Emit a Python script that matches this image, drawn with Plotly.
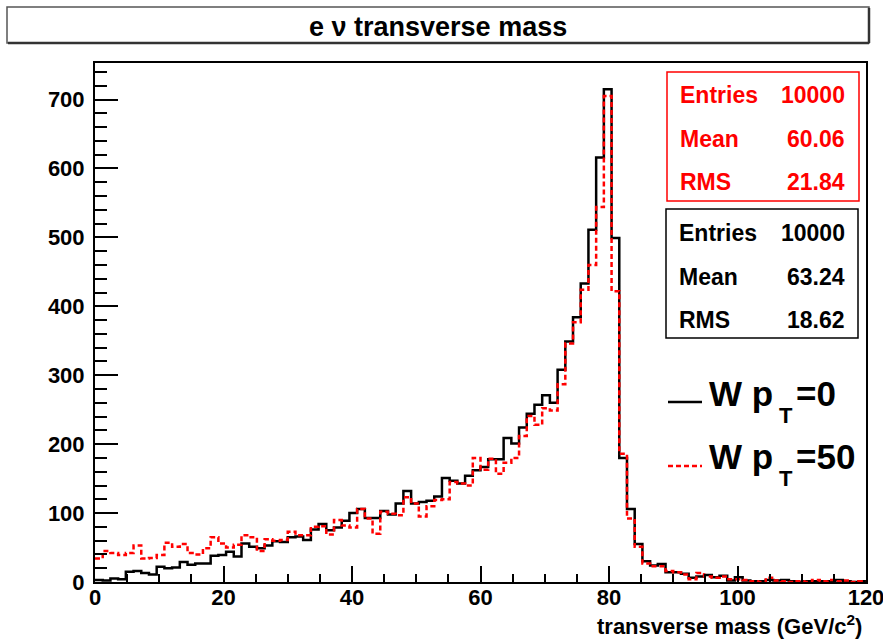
import plotly.graph_objects as go

# ---------------- data ----------------
XMIN, XMAX, NBINS = 0.0, 120.0, 100

black_counts = [3, 2, 5, 4, 15, 16, 13, 11, 22, 20,
                21, 29, 25, 27, 27, 38, 39, 44, 37, 56,
                51, 49, 53, 59, 58, 65, 66, 61, 76, 84,
                75, 79, 89, 100, 106, 93, 93, 103, 98, 114,
                132, 114, 116, 118, 124, 151, 147, 143, 154, 162,
                167, 178, 178, 209, 201, 224, 244, 257, 271, 260,
                308, 349, 384, 433, 511, 616, 715, 499, 180, 106,
                55, 30, 24, 26, 14, 14, 12, 6, 8, 10,
                7, 9, 2, 7, 2, 1, 1, 3, 2, 3,
                1, 0, 1, 1, 1, 1, 3, 1, 0, 1]

red_counts = [34, 45, 42, 39, 42, 53, 34, 35, 39, 57,
              51, 55, 42, 40, 49, 65, 56, 50, 54, 68,
              65, 45, 62, 60, 61, 73, 68, 68, 80, 81,
              69, 90, 82, 79, 106, 92, 70, 102, 99, 97,
              123, 114, 95, 110, 119, 120, 145, 143, 140, 180,
              163, 179, 157, 173, 180, 212, 241, 228, 252, 249,
              287, 346, 377, 424, 460, 544, 705, 422, 186, 92,
              51, 27, 23, 23, 16, 14, 11, 4, 13, 8,
              6, 8, 4, 4, 3, 1, 0, 6, 2, 1,
              0, 1, 0, 3, 1, 3, 1, 2, 0, 1]

# legend labels: (main text, subscript, tail)
series_labels = [("W p", "T", "=0"), ("W p", "T", "=50")]
stats_black = [("Entries", "10000"), ("Mean", "63.24"), ("RMS", "18.62")]
stats_red = [("Entries", "10000"), ("Mean", "60.06"), ("RMS", "21.84")]
title_text = "e \u03bd transverse mass"
xaxis_title = "transverse mass (GeV/c<sup>2</sup>)"
x_tick_values = [0, 20, 40, 60, 80, 100, 120]

# ---------------- layout helpers ----------------
W, H = 883, 639
L, R, T, B = 95, 17, 63, 57
PW, PH = W - L - R, H - T - B
FONT = "Liberation Sans"


def px(x):
    return (x - L) / PW


def py(y):
    return (H - B - y) / PH


bw = (XMAX - XMIN) / NBINS
edges = [XMIN + i * bw for i in range(NBINS + 1)]


def step(counts):
    return edges, list(counts) + [counts[-1]]


fig = go.Figure()
xb, yb = step(black_counts)
fig.add_trace(go.Scatter(x=xb, y=yb, mode="lines", line_shape="hv",
                         line=dict(color="black", width=2.5), showlegend=False,
                         hoverinfo="skip"))
xr, yr = step(red_counts)
fig.add_trace(go.Scatter(x=xr, y=yr, mode="lines", line_shape="hv",
                         line=dict(color="#ff0000", width=2.5, dash="5px,3px"),
                         showlegend=False, hoverinfo="skip"))

shapes = []
annotations = []


def txt(text, x, y, size, color="black", xanchor="left", yanchor="middle"):
    annotations.append(dict(text="<b>" + text + "</b>", xref="paper", yref="paper",
                            x=px(x), y=py(y), xanchor=xanchor, yanchor=yanchor,
                            showarrow=False,
                            font=dict(family=FONT, size=size, color=color)))


# title box
shapes.append(dict(type="rect", xref="paper", yref="paper",
                   x0=px(7), x1=px(869), y0=py(43), y1=py(7),
                   line=dict(color="#555555", width=1.5), fillcolor="white", layer="below"))
shapes.append(dict(type="line", xref="paper", yref="paper",
                   x0=px(869), x1=px(869), y0=py(43), y1=py(8),
                   line=dict(color="#333333", width=2.5)))
shapes.append(dict(type="line", xref="paper", yref="paper",
                   x0=px(8), x1=px(869), y0=py(43), y1=py(43),
                   line=dict(color="#333333", width=2.5)))
txt(title_text, 438, 27, 27, xanchor="center")


# stats boxes
def stats_box(rows, color, xl, xr_, yt, yb_, ys):
    shapes.append(dict(type="rect", xref="paper", yref="paper",
                       x0=px(xl), x1=px(xr_), y0=py(yb_), y1=py(yt),
                       line=dict(color=color, width=1.5), fillcolor="white"))
    for (lab, val), yy in zip(rows, ys):
        txt(lab, xl + 11, yy, 23, color=color)
        txt(val, 847, yy, 23, color=color, xanchor="right")


stats_box(stats_red, "#ff0000", 667, 859, 72, 201, [95, 139, 182])
stats_box(stats_black, "black", 666, 858, 209, 338, [233, 277, 320])

# legend
shapes.append(dict(type="line", xref="paper", yref="paper",
                   x0=px(668), x1=px(702), y0=py(402), y1=py(402),
                   line=dict(color="black", width=2.5)))
shapes.append(dict(type="line", xref="paper", yref="paper",
                   x0=px(668), x1=px(702), y0=py(466), y1=py(466),
                   line=dict(color="#ff0000", width=2.5, dash="5px,3px")))
for (main, sub, tail), yy in zip(series_labels, [393, 456]):
    txt(main, 707, yy, 35)
    txt(sub, 777, yy + 22, 22)
    txt(tail, 794, yy, 35)

# x axis title
txt(xaxis_title, 864, 625, 22, xanchor="right")

fig.update_layout(
    width=W, height=H,
    margin=dict(l=L, r=R, t=T, b=B, pad=0, autoexpand=False),
    paper_bgcolor="white", plot_bgcolor="white",
    shapes=shapes, annotations=annotations,
    showlegend=False,
    xaxis=dict(range=[XMIN, XMAX], showgrid=False, zeroline=False,
               showline=True, linecolor="black", linewidth=2, mirror=True,
               automargin=False,
               ticks="inside", ticklen=16, tickwidth=1.5, tickcolor="black",
               tickmode="array", tickvals=x_tick_values,
               ticktext=[str(v) for v in x_tick_values],
               ticklabeloverflow="allow",
               minor=dict(dtick=5, tick0=0, ticks="inside", ticklen=8,
                          tickwidth=1.5, tickcolor="black", showgrid=False),
               tickfont=dict(family=FONT, size=22, color="black", weight="bold"),
               ticklabelstandoff=-5),
    yaxis=dict(range=[0, 753], showgrid=False, zeroline=False,
               showline=True, linecolor="black", linewidth=2, mirror=True,
               automargin=False,
               ticks="inside", ticklen=23, tickwidth=1.5, tickcolor="black",
               dtick=100, tick0=0,
               minor=dict(dtick=20, tick0=0, ticks="inside", ticklen=12,
                          tickwidth=1.5, tickcolor="black", showgrid=False),
               tickfont=dict(family=FONT, size=22, color="black", weight="bold"),
               ticklabelstandoff=4),
)

fig.write_html("out.html")
